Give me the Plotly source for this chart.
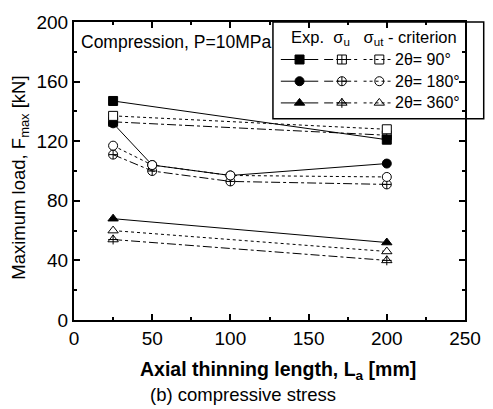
import plotly.graph_objects as go

# ---- data ----
x2pt = [25, 200]
x4pt = [25, 50, 100, 200]
exp_90 = [147, 121]
su_90 = [133, 124]
sut_90 = [137, 128]
exp_180 = [132, 104, 97, 105]
su_180 = [111, 100, 93, 91]
sut_180 = [117, 104, 97, 96]
exp_360 = [68, 52]
su_360 = [54, 40]
sut_360 = [60, 46]

xticks = [0, 50, 100, 150, 200, 250]
yticks = [0, 40, 80, 120, 160, 200]

L, R, T, B = 74, 22, 18, 89
W, H = 493, 409
PW, PH = W - L - R, H - T - B

def px(x):
    return (x - L) / PW

def py(y):
    return (T + PH - y) / PH

fig = go.Figure()
K = "black"
MS = 9

def series(x, y, dash, symbol, fill=K, width=1.0, cross=False):
    fig.add_trace(go.Scatter(x=x, y=y, mode="lines+markers",
                             line=dict(color=K, width=width, dash=dash),
                             marker=dict(symbol=symbol, size=MS, color=fill,
                                         line=dict(color=K, width=1)),
                             showlegend=False, cliponaxis=False))
    if cross:
        fig.add_trace(go.Scatter(x=x, y=y, mode="markers",
                                 marker=dict(symbol="cross-thin-open", size=MS - 2, color=K,
                                             line=dict(color=K, width=1)),
                                 showlegend=False, cliponaxis=False))

series(x2pt, exp_90, "solid", "square")
series(x4pt, exp_180, "solid", "circle")
series(x2pt, exp_360, "solid", "triangle-up")
series(x2pt, su_90, "dashdot", "square-cross-open")
series(x4pt, su_180, "dashdot", "circle-cross-open")
series(x2pt, su_360, "dashdot", "triangle-up", fill="white", cross=True)
series(x2pt, sut_90, "dot", "square", fill="white")
series(x4pt, sut_180, "dot", "circle", fill="white")
series(x2pt, sut_360, "dot", "triangle-up", fill="white")

# ---- legend box (pixel-coordinate overlay axes) ----
rows = [56, 78, 100]
row_syms = [("square", "square-cross-open", "square-open", False),
            ("circle", "circle-cross-open", "circle-open", False),
            ("triangle-up", "triangle-up-open", "triangle-up-open", True)]
row_txt = ["2θ= 90°", "2θ= 180°", "2θ= 360°"]
for yy, (s1, s2, s3, cr), t in zip(rows, row_syms, row_txt):
    for (xa, xb, xm, dash, sym) in [(284, 322, 303, "solid", s1),
                                    (328, 364, 346, "dashdot", s2),
                                    (368, 396, 384, "dot", s3)]:
        fig.add_trace(go.Scatter(x=[xa, xb], y=[yy, yy], mode="lines",
                                 line=dict(color=K, width=1, dash=dash),
                                 xaxis="x2", yaxis="y2", showlegend=False, cliponaxis=False))
        fig.add_trace(go.Scatter(x=[xm], y=[yy], mode="markers",
                                 marker=dict(symbol=sym, size=MS, color=K, line=dict(color=K, width=1)),
                                 xaxis="x2", yaxis="y2", showlegend=False, cliponaxis=False))
        if cr and xm == 346:
            fig.add_trace(go.Scatter(x=[xm], y=[yy], mode="markers",
                                     marker=dict(symbol="cross-thin-open", size=MS - 2, color=K,
                                                 line=dict(color=K, width=1)),
                                     xaxis="x2", yaxis="y2", showlegend=False, cliponaxis=False))
    fig.add_annotation(x=px(398), y=py(yy), xref="paper", yref="paper", text=t,
                       showarrow=False, xanchor="left", yanchor="middle",
                       font=dict(size=16, color=K, family="Arial"))

fig.add_shape(type="rect", xref="paper", yref="paper",
              x0=px(276), x1=px(490), y0=py(116), y1=py(18),
              line=dict(color=K, width=1.5), fillcolor="rgba(0,0,0,0)")
fig.add_annotation(x=px(292), y=py(34), xref="paper", yref="paper",
                   text="Exp.&nbsp;&nbsp;σ<sub>u</sub>&nbsp;&nbsp;&nbsp;σ<sub>ut</sub> - criterion",
                   showarrow=False, xanchor="left", yanchor="middle",
                   font=dict(size=16.5, color=K, family="Arial"))
fig.add_annotation(x=px(79), y=py(38), xref="paper", yref="paper",
                   text="Compression, P=10MPa", showarrow=False,
                   xanchor="left", yanchor="middle",
                   font=dict(size=17.5, color=K, family="Arial"))

# axis titles & caption
fig.add_annotation(x=px(281), y=py(371), xref="paper", yref="paper",
                   text="<b>Axial thinning length, L<sub>a</sub> [mm]</b>", showarrow=False,
                   xanchor="center", yanchor="middle",
                   font=dict(size=19.5, color=K, family="Arial"))
fig.add_annotation(x=px(246), y=py(396), xref="paper", yref="paper",
                   text="(b) compressive stress", showarrow=False,
                   xanchor="center", yanchor="middle",
                   font=dict(size=18.5, color=K, family="Arial"))
fig.add_annotation(x=px(19), y=py(176), xref="paper", yref="paper",
                   text="Maximum load, F<sub>max</sub> [kN]", showarrow=False,
                   textangle=-90, xanchor="center", yanchor="middle",
                   font=dict(size=18.5, color=K, family="Arial"))

axis_common = dict(showgrid=False, zeroline=False, showline=True, linecolor=K,
                   linewidth=2, mirror="ticks", ticks="inside", ticklen=6,
                   tickwidth=1.5, tickcolor=K,
                   tickfont=dict(size=19, color=K, family="Arial"))
fig.update_layout(
    width=W, height=H, margin=dict(l=L, r=R, t=T, b=B),
    paper_bgcolor="white", plot_bgcolor="white",
    xaxis=dict(range=[0, 250], tickvals=xticks,
               minor=dict(ticks="inside", ticklen=3, dtick=25, tickcolor=K),
               **axis_common),
    yaxis=dict(range=[0, 200], tickvals=yticks,
               minor=dict(ticks="inside", ticklen=3, dtick=20, tickcolor=K),
               **axis_common),
    xaxis2=dict(range=[L, L + PW], overlaying="x", visible=False, fixedrange=True),
    yaxis2=dict(range=[T + PH, T], overlaying="y", visible=False, fixedrange=True),
)

fig.write_html("out.html")
